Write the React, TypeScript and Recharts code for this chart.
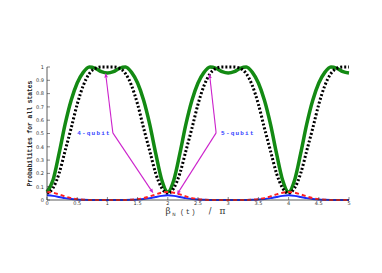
import React from "react";
import {
  ComposedChart,
  Label,
  Line,
  ReferenceLine,
  XAxis,
  YAxis,
} from "recharts";

// beta_N(t) / pi, sampled every 0.1
const betaOverPi = [
  0, 0.1, 0.2, 0.3, 0.4, 0.5, 0.6, 0.7, 0.8, 0.9, 1, 1.1, 1.2, 1.3, 1.4, 1.5,
  1.6, 1.7, 1.8, 1.9, 2, 2.1, 2.2, 2.3, 2.4, 2.5, 2.6, 2.7, 2.8, 2.9, 3, 3.1,
  3.2, 3.3, 3.4, 3.5, 3.6, 3.7, 3.8, 3.9, 4, 4.1, 4.2, 4.3, 4.4, 4.5, 4.6, 4.7,
  4.8, 4.9, 5,
];

const greenSolid = [
  0.06, 0.15, 0.35, 0.57, 0.75, 0.88, 0.96, 1.0, 0.99, 0.965, 0.955, 0.965,
  0.99, 1.0, 0.96, 0.88, 0.75, 0.57, 0.35, 0.15, 0.06, 0.15, 0.35, 0.57, 0.75,
  0.88, 0.96, 1.0, 0.99, 0.965, 0.955, 0.965, 0.99, 1.0, 0.96, 0.88, 0.75,
  0.57, 0.35, 0.15, 0.06, 0.15, 0.35, 0.57, 0.75, 0.88, 0.96, 1.0, 0.99, 0.965,
  0.955,
];

const blackDotted = [
  0.05, 0.09, 0.2, 0.37, 0.54, 0.72, 0.86, 0.95, 0.99, 1.0, 1.0, 1.0, 0.99,
  0.95, 0.86, 0.72, 0.54, 0.37, 0.2, 0.09, 0.05, 0.09, 0.2, 0.37, 0.54, 0.72,
  0.86, 0.95, 0.99, 1.0, 1.0, 1.0, 0.99, 0.95, 0.86, 0.72, 0.54, 0.37, 0.2,
  0.09, 0.05, 0.09, 0.2, 0.37, 0.54, 0.72, 0.86, 0.95, 0.99, 1.0, 1.0,
];

const redDashed = [
  0.06, 0.055, 0.042, 0.027, 0.014, 0.006, 0.002, 0, 0, 0, 0, 0, 0, 0, 0.002,
  0.006, 0.014, 0.027, 0.042, 0.055, 0.06, 0.055, 0.042, 0.027, 0.014, 0.006,
  0.002, 0, 0, 0, 0, 0, 0, 0, 0.002, 0.006, 0.014, 0.027, 0.042, 0.055, 0.06,
  0.055, 0.042, 0.027, 0.014, 0.006, 0.002, 0, 0, 0, 0,
];

const blueSolid = [
  0.035, 0.031, 0.023, 0.014, 0.007, 0.003, 0.001, 0, 0, 0, 0, 0, 0, 0, 0.001,
  0.003, 0.007, 0.014, 0.023, 0.031, 0.035, 0.031, 0.023, 0.014, 0.007, 0.003,
  0.001, 0, 0, 0, 0, 0, 0, 0, 0.001, 0.003, 0.007, 0.014, 0.023, 0.031, 0.035,
  0.031, 0.023, 0.014, 0.007, 0.003, 0.001, 0, 0, 0, 0,
];

const xTicks = [0, 0.5, 1, 1.5, 2, 2.5, 3, 3.5, 4, 4.5, 5];
const yTicks = [0, 0.1, 0.2, 0.3, 0.4, 0.5, 0.6, 0.7, 0.8, 0.9, 1];

// annotation arrows, in data coordinates
const noteLabels = ["4-qubit", "5-qubit"];
const noteJoins = [
  { x: 1.09, y: 0.505 },
  { x: 2.8, y: 0.505 },
];
const noteTips = [
  [
    { x: 0.97, y: 0.955 },
    { x: 1.76, y: 0.05 },
  ],
  [
    { x: 2.69, y: 0.95 },
    { x: 2.15, y: 0.04 },
  ],
];

const rows = betaOverPi.map((b, i) => ({
  b,
  green: greenSolid[i],
  black: blackDotted[i],
  red: redDashed[i],
  blue: blueSolid[i],
}));

const AXIS = "#333";
const MAGENTA = "#cc22cc";
const tickFont = { fontSize: 5, fontFamily: "DejaVu Sans", fill: "#333" };

const BottomTick = (p: any) => (
  <g>
    <line x1={p.x} y1={p.y} x2={p.x} y2={p.y - 3} stroke={AXIS} strokeWidth={0.6} />
    <text x={p.x} y={p.y + 5} textAnchor="middle" {...tickFont}>
      {p.payload.value}
    </text>
  </g>
);

const TopTick = (p: any) => (
  <line x1={p.x} y1={p.y} x2={p.x} y2={p.y + 3} stroke={AXIS} strokeWidth={0.6} />
);

const LeftTick = (p: any) => (
  <g>
    <line x1={p.x} y1={p.y} x2={p.x + 3} y2={p.y} stroke={AXIS} strokeWidth={0.6} />
    <text x={p.x - 3} y={p.y + 1.8} textAnchor="end" {...tickFont}>
      {p.payload.value}
    </text>
  </g>
);

const RightTick = (p: any) => (
  <line x1={p.x} y1={p.y} x2={p.x - 3} y2={p.y} stroke={AXIS} strokeWidth={0.6} />
);

const arrow = (text?: string, side?: "left" | "right") => (p: any) => {
  const { x1, y1, x2, y2 } = p;
  const a = Math.atan2(y2 - y1, x2 - x1);
  const bx = x2 - 4.5 * Math.cos(a);
  const by = y2 - 4.5 * Math.sin(a);
  const nx = -Math.sin(a) * 1.8;
  const ny = Math.cos(a) * 1.8;
  return (
    <g>
      <line x1={x1} y1={y1} x2={bx} y2={by} stroke={MAGENTA} strokeWidth={1.1} />
      <polygon
        points={`${x2},${y2} ${bx + nx},${by + ny} ${bx - nx},${by - ny}`}
        fill={MAGENTA}
      />
      {text && (
        <text
          x={side === "left" ? x1 - 2 : x1 + 5}
          y={y1 + 1.8}
          textAnchor={side === "left" ? "end" : "start"}
          fontSize={6}
          fontWeight="bold"
          fontFamily="Liberation Mono"
          letterSpacing={1.2}
          fill="#3344ff"
        >
          {text}
        </text>
      )}
    </g>
  );
};

export default function App() {
  return (
    <div style={{ position: "absolute", left: 0, top: 0 }}>
      <ComposedChart
        width={382}
        height={273}
        data={rows}
        margin={{ top: 67, right: 33, bottom: 0, left: 0 }}
      >
        <XAxis
          dataKey="b"
          type="number"
          domain={[0, 5]}
          ticks={xTicks}
          interval={0}
          tickSize={0}
          tickMargin={0}
          tick={BottomTick}
          stroke={AXIS}
          strokeWidth={0.8}
          height={73}
        >
          <Label
            content={(lp: any) => {
              const cx = lp.viewBox.x + lp.viewBox.width / 2;
              const y = lp.viewBox.y + 14;
              return (
                <g fill="#333">
                  <text x={cx - 30} y={y} textAnchor="middle" fontSize={9} fontFamily="DejaVu Serif">
                    β
                  </text>
                  <text x={cx - 24} y={y + 2} textAnchor="middle" fontSize={4.5} fontFamily="DejaVu Sans">
                    N
                  </text>
                  <text x={cx - 9.5} y={y} textAnchor="middle" fontSize={7} fontFamily="Liberation Mono" letterSpacing={1.5}>
                    (t)
                  </text>
                  <text x={cx + 12} y={y} textAnchor="middle" fontSize={8} fontFamily="DejaVu Sans">
                    /
                  </text>
                  <text x={cx + 24.5} y={y} textAnchor="middle" fontSize={9} fontFamily="DejaVu Serif">
                    π
                  </text>
                </g>
              );
            }}
          />
        </XAxis>
        <XAxis
          xAxisId="top"
          dataKey="b"
          type="number"
          orientation="top"
          domain={[0, 5]}
          ticks={xTicks}
          interval={0}
          tickSize={0}
          tickMargin={0}
          tick={TopTick}
          stroke={AXIS}
          strokeWidth={0.8}
          height={0}
        >
          <Label
            content={(lp: any) => (
              <text
                x={lp.viewBox.x + lp.viewBox.width / 2}
                y={lp.viewBox.y - 2}
                textAnchor="middle"
                fontSize={6}
                fontFamily="Liberation Mono"
                letterSpacing={1.2}
                fill="#333"
              >
                (b)
              </text>
            )}
          />
        </XAxis>
        <YAxis
          type="number"
          domain={[0, 1]}
          ticks={yTicks}
          interval={0}
          tickSize={0}
          tickMargin={0}
          tick={LeftTick}
          stroke={AXIS}
          strokeWidth={0.8}
          width={47}
        >
          <Label
            content={(lp: any) => {
              const cy = lp.viewBox.y + lp.viewBox.height / 2;
              return (
                <text
                  transform={`translate(31.5, ${cy}) rotate(-90)`}
                  textAnchor="middle"
                  fontSize={6.3}
                  fontWeight="bold"
                  fontFamily="Liberation Mono"
                  fill="#222"
                >
                  Probabilities for all states
                </text>
              );
            }}
          />
        </YAxis>
        <YAxis
          yAxisId="right"
          type="number"
          orientation="right"
          domain={[0, 1]}
          ticks={yTicks}
          interval={0}
          tickSize={0}
          tickMargin={0}
          tick={RightTick}
          stroke={AXIS}
          strokeWidth={0.8}
          width={0}
        />

        <Line
          type="monotone"
          dataKey="green"
          stroke="#138a13"
          strokeWidth={3.5}
          dot={false}
          isAnimationActive={false}
        />
        <Line
          type="monotone"
          dataKey="black"
          stroke="#000"
          strokeWidth={3}
          strokeDasharray="2 2"
          dot={false}
          isAnimationActive={false}
        />
        <Line
          type="monotone"
          dataKey="blue"
          stroke="#1a2cff"
          strokeWidth={2}
          dot={false}
          isAnimationActive={false}
        />
        <Line
          type="monotone"
          dataKey="red"
          stroke="#ff2020"
          strokeWidth={2}
          strokeDasharray="4 3"
          dot={false}
          isAnimationActive={false}
        />

        {noteTips.map((tips, n) =>
          tips.map((tip, k) => (
            <ReferenceLine
              key={`${n}-${k}`}
              segment={[noteJoins[n], tip]}
              ifOverflow="visible"
              shape={arrow(
                k === 0 ? noteLabels[n] : undefined,
                n === 0 ? "left" : "right"
              )}
            />
          ))
        )}
      </ComposedChart>
    </div>
  );
}
